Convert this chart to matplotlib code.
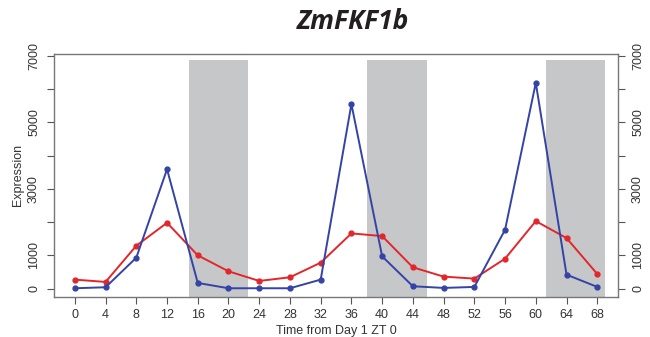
## ZmFKF1b expression over time
import matplotlib
matplotlib.use('Agg')
import matplotlib.pyplot as plt
import numpy as np

plt.rcParams['font.family'] = ['Liberation Sans', 'DejaVu Sans']

# time points (hours from Day 1 ZT 0)
time_h = [0, 4, 8, 12, 16, 20, 24, 28, 32, 36, 40, 44, 48, 52, 56, 60, 64, 68]
blue_expr = [10, 40, 930, 3590, 170, 10, 10, 10, 270, 5550, 970, 70, 20, 50, 1770, 6190, 420, 50]
red_expr = [270, 200, 1290, 1980, 1000, 520, 230, 340, 780, 1660, 1580, 640, 360, 300, 900, 2030, 1520, 440]

# dark periods (start, end)
dark_start = [14.9, 38.0, 61.3]
dark_end = [22.6, 45.8, 69.0]
dark_top = 6870

y_ticks = [0, 1000, 2000, 3000, 4000, 5000, 6000, 7000]
y_labels = ['0', '1000', '', '3000', '', '5000', '', '7000']

fig = plt.figure(figsize=(6.5, 3.37), dpi=100)
ax = fig.add_axes([0.083, 0.119, 0.868, 0.722])

for s, e in zip(dark_start, dark_end):
    ax.fill_between([s, e], -1000, dark_top, color='#c6c7c9', lw=0, zorder=1)

ax.plot(time_h, red_expr, color='#e3262b', lw=1.4, marker='o', ms=3.5, zorder=3)
ax.plot(time_h, blue_expr, color='#3343a6', lw=1.4, marker='o', ms=3.5, zorder=3)

ax.set_xlim(-2.72, 70.72)
ax.set_ylim(-250, 7070)
ax.set_xticks(time_h)
ax.set_xticklabels([str(t) for t in time_h])
ax.set_yticks(y_ticks)
ax.set_yticklabels(y_labels, rotation=90, va='center')

ax.tick_params(axis='both', direction='out', length=5, labelsize=9,
               color='#555555', labelcolor='#333333')
ax.tick_params(axis='y', right=True, labelright=True, pad=5)
for lab in ax.get_yticklabels(which='both'):
    lab.set_rotation(90)
    lab.set_va('center')

for sp in ax.spines.values():
    sp.set_color('#777777')
    sp.set_linewidth(1.0)

ax.set_xlabel('Time from Day 1 ZT 0', fontsize=9, color='#333333', labelpad=3)
ax.set_ylabel('Expression', fontsize=9, color='#333333', labelpad=3)

fig.text(0.543, 0.935, 'ZmFKF1b', fontsize=19, fontweight='bold', fontstyle='italic',
         family=['Open Sans', 'DejaVu Sans'], ha='center', va='center', color='#231f20')

fig.savefig('out.png', dpi=100)
